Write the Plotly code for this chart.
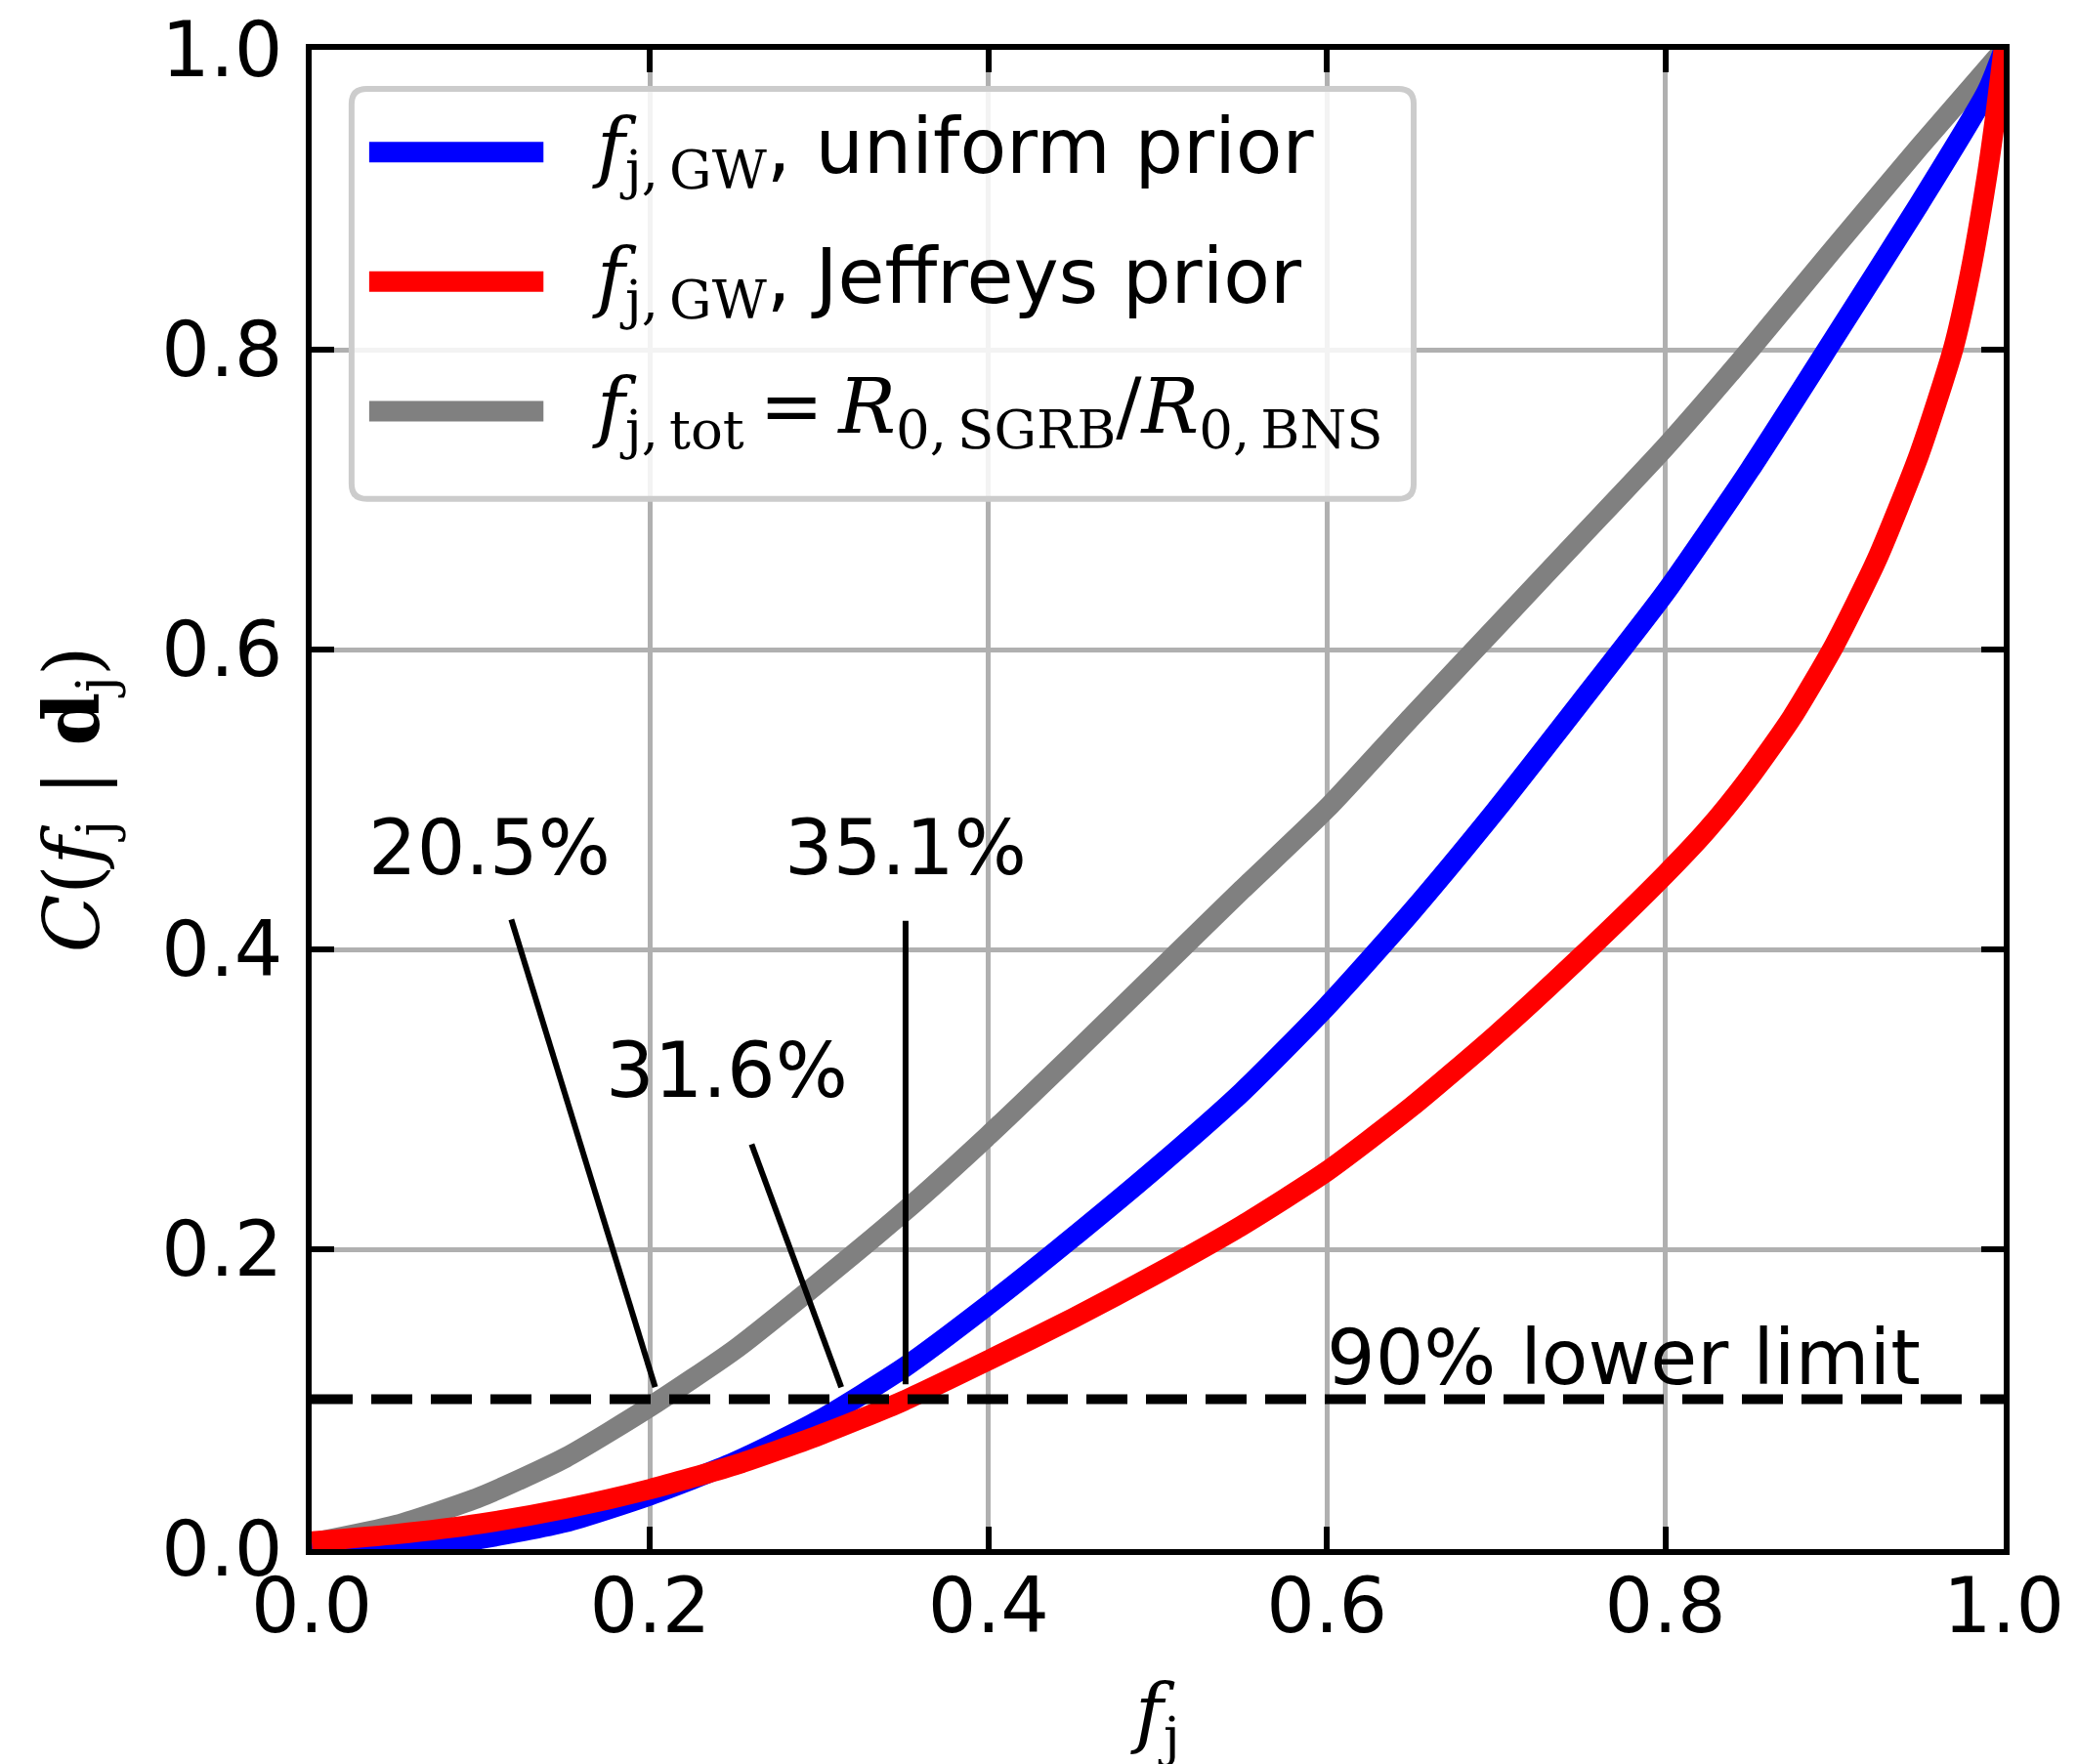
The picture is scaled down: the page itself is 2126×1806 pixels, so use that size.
import plotly.graph_objects as go

# ---- data ----
fj_grid = [0.0, 0.05, 0.1, 0.15, 0.2, 0.25, 0.3, 0.35, 0.4, 0.45, 0.5, 0.55,
           0.6, 0.65, 0.7, 0.75, 0.8, 0.85, 0.9, 0.95, 0.99, 1.0]
c_uniform = [0.0, 0.001, 0.007, 0.018, 0.036, 0.058, 0.086, 0.121, 0.163, 0.208, 0.255, 0.305,
             0.362, 0.425, 0.493, 0.565, 0.638, 0.72, 0.808, 0.897, 0.972, 1.0]
fj_grid_j = [0.0, 0.05, 0.1, 0.15, 0.2, 0.25, 0.3, 0.35, 0.4, 0.45, 0.5, 0.55,
             0.6, 0.65, 0.7, 0.75, 0.8, 0.825, 0.85, 0.875, 0.9, 0.925, 0.95, 0.97, 0.98, 0.99,
             0.995, 1.0]
c_jeffreys = [0.005, 0.010, 0.017, 0.027, 0.040, 0.056, 0.076, 0.099, 0.126, 0.154, 0.184, 0.216,
              0.252, 0.295, 0.343, 0.395, 0.45, 0.48, 0.515, 0.555, 0.603, 0.66, 0.73, 0.80,
              0.85, 0.915, 0.955, 1.0]
fj_grid_t = [0.0, 0.05, 0.1, 0.15, 0.2, 0.25, 0.3, 0.35, 0.4, 0.45, 0.5, 0.55,
             0.6, 0.65, 0.7, 0.75, 0.8, 0.85, 0.9, 0.95, 1.0]
c_total = [0.004, 0.016, 0.035, 0.061, 0.095, 0.133, 0.178, 0.225, 0.276, 0.33, 0.385, 0.44,
           0.494, 0.555, 0.615, 0.675, 0.735, 0.80, 0.868, 0.935, 1.0]

lower_limit = 0.1
limit_labels = ["20.5%", "31.6%", "35.1%"]
limit_text_pos = [(0.105, 0.468), (0.2455, 0.319), (0.351, 0.468)]
limit_pointers = [((0.118, 0.42), (0.203, 0.108)),
                  ((0.260, 0.270), (0.313, 0.108)),
                  ((0.351, 0.419), (0.351, 0.110))]
ticks = [0.0, 0.2, 0.4, 0.6, 0.8, 1.0]

SERIF = "DejaVu Serif"
SANS = "DejaVu Sans"
FS = 78
TS = "&#8201;"  # thin space


def serif(s):
    return f"<span style='font-family:{SERIF}'>{s}</span>"


legend_labels = [
    serif(f"<i>f</i><sub>j,{TS}GW</sub>") + ", uniform prior",
    serif(f"<i>f</i><sub>j,{TS}GW</sub>") + ", Jeffreys prior",
    serif(f"<i>f</i><sub>j,{TS}tot</sub>{TS}={TS}<i>R</i><sub>0,{TS}SGRB</sub>/"
          f"<i>R</i><sub>0,{TS}BNS</sub>"),
]
colors = ["blue", "red", "gray"]

fig = go.Figure()
fig.add_trace(go.Scatter(x=fj_grid_t, y=c_total, mode="lines", name="f_j,tot",
                         line=dict(color="gray", width=21, shape="spline", smoothing=0.6),
                         showlegend=False))
fig.add_trace(go.Scatter(x=fj_grid, y=c_uniform, mode="lines", name="uniform prior",
                         line=dict(color="blue", width=21, shape="spline", smoothing=0.6),
                         showlegend=False))
fig.add_trace(go.Scatter(x=fj_grid_j, y=c_jeffreys, mode="lines", name="Jeffreys prior",
                         line=dict(color="red", width=21, shape="spline", smoothing=0.6),
                         showlegend=False))
fig.add_trace(go.Scatter(x=[0, 1], y=[lower_limit, lower_limit], mode="lines",
                         line=dict(color="black", width=10, dash="42px,19px"), showlegend=False))

shapes = []
for (x0, y0), (x1, y1) in limit_pointers:
    shapes.append(dict(type="line", xref="x", yref="y", x0=x0, y0=y0, x1=x1, y1=y1,
                       line=dict(color="black", width=6)))

# legend box (rounded) drawn manually
lx0, lx1, ly0, ly1 = 0.0236, 0.6513, 0.7005, 0.974
rx, ry = 0.009, 0.010
path = (f"M {lx0+rx},{ly0} L {lx1-rx},{ly0} Q {lx1},{ly0} {lx1},{ly0+ry} "
        f"L {lx1},{ly1-ry} Q {lx1},{ly1} {lx1-rx},{ly1} L {lx0+rx},{ly1} "
        f"Q {lx0},{ly1} {lx0},{ly1-ry} L {lx0},{ly0+ry} Q {lx0},{ly0} {lx0+rx},{ly0} Z")
shapes.append(dict(type="path", xref="x", yref="y", path=path,
                   fillcolor="rgba(255,255,255,0.85)", line=dict(color="#cccccc", width=6),
                   layer="above"))
row_y = [0.9318, 0.8454, 0.7589]
for yy, col in zip(row_y, colors):
    shapes.append(dict(type="line", xref="x", yref="y", x0=0.034, x1=0.137, y0=yy, y1=yy,
                       line=dict(color=col, width=21), layer="above"))

annotations = []
for txt, (tx, ty) in zip(limit_labels, limit_text_pos):
    annotations.append(dict(x=tx, y=ty, xref="x", yref="y", text=txt, showarrow=False,
                            font=dict(size=FS, color="black", family=SANS),
                            xanchor="center", yanchor="middle"))
annotations.append(dict(x=0.7756, y=0.128, xref="x", yref="y", text="90% lower limit",
                        showarrow=False, font=dict(size=FS, color="black", family=SANS),
                        xanchor="center", yanchor="middle"))
for yy, lab in zip(row_y, legend_labels):
    annotations.append(dict(x=0.1646, y=yy, xref="x", yref="y", text=lab, showarrow=False,
                            font=dict(size=FS, color="black", family=SANS),
                            xanchor="left", yanchor="middle"))

axis_common = dict(range=[0, 1], tickvals=ticks, ticktext=[f"{t:.1f}" for t in ticks],
                   ticks="inside", ticklen=23, tickwidth=6, tickcolor="black",
                   showline=True, linewidth=6, linecolor="black", mirror="ticks",
                   showgrid=True, gridcolor="#b0b0b0", gridwidth=5, zeroline=False,
                   automargin=False, ticklabeloverflow="allow",
                   tickfont=dict(size=FS, color="black", family=SANS))

fig.update_layout(
    width=2126, height=1806,
    margin=dict(l=311, r=83, t=43, b=228),
    paper_bgcolor="white", plot_bgcolor="white",
    font=dict(family=SANS, size=FS, color="black"),
    xaxis=dict(**axis_common, ticklabelstandoff=-15,
               title=dict(text="<i>f</i><sub>j</sub>", font=dict(family=SERIF, size=FS), standoff=40)),
    yaxis=dict(**axis_common, ticklabelstandoff=8,
               title=dict(text="<i>C</i>(<i>f</i><sub>j</sub> | <b>d</b><sub>j</sub>)",
                          font=dict(family=SERIF, size=FS), standoff=40)),
    shapes=shapes, annotations=annotations, showlegend=False,
)

fig.write_html("out.html")
